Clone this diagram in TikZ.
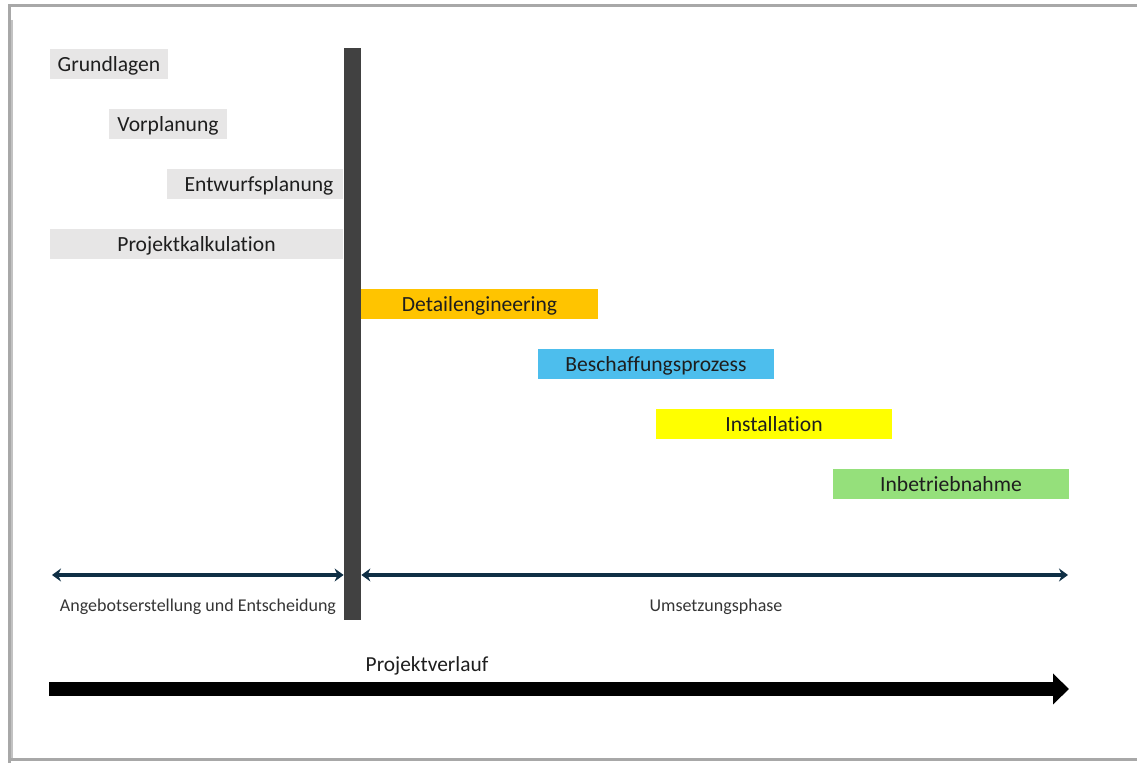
\documentclass[tikz,border=0pt]{standalone}
\usepackage{fontspec}
\setmainfont{Carlito}[Ligatures=NoCommon]
\usetikzlibrary{arrows.meta}
\definecolor{boxgray}{HTML}{E7E6E6}
\definecolor{gold}{HTML}{FFC400}
\definecolor{skyblue}{HTML}{4DBEED}
\definecolor{brightyellow}{HTML}{FFFF00}
\definecolor{lightgreen}{HTML}{95E07B}
\definecolor{barcol}{HTML}{414141}
\definecolor{navy}{HTML}{0F2F45}
\definecolor{txt}{HTML}{1E1E1E}
\definecolor{subtxt}{HTML}{353535}
\definecolor{framecol}{HTML}{A8A8A8}
\tikzset{
  phase/.style={fill=#1, inner sep=0pt, minimum height=15pt, text=txt,
    text height=10pt, text depth=2pt,
    font=\fontsize{10.8}{12}\selectfont},
  span/.style={draw=navy, line width=2pt,
    {Stealth[length=4.5pt,width=6.5pt]}-{Stealth[length=4.5pt,width=6.5pt]}},
  sublabel/.style={text=subtxt, inner sep=0pt, font=\fontsize{9}{10}\selectfont},
}
\begin{document}
\begin{tikzpicture}[x=0.5pt,y=-0.5pt]
\useasboundingbox (0,0) rectangle (1137,763);
% page frame
\draw[framecol, line width=1.5pt] (9,1200) -- (9,5.5) -- (1200,5.5);
\draw[framecol!70, line width=1pt] (12,20) -- (12,758);
\draw[framecol, line width=1.5pt] (9,760) -- (1200,760);

% planning phases before the decision
\node[phase=boxgray, minimum width=59pt] (grund) at (109,64) {Grundlagen};
\node[phase=boxgray, minimum width=59pt] (vor) at (168,124) {Vorplanung};
\node[phase=boxgray, minimum width=88pt] (entwurf) at (255,184) {\hspace*{4pt}Entwurfsplanung};
\node[phase=boxgray, minimum width=146.5pt] (kalk) at (196.5,244) {Projektkalkulation};

% decision gate
\node[fill=barcol, inner sep=0pt, minimum width=8.5pt, minimum height=286pt] (gate) at (352.5,334) {};

% implementation phases
\node[phase=gold, minimum width=118.5pt] (detail) at (479.5,304) {Detailengineering};
\node[phase=skyblue, minimum width=118pt] (beschaff) at (656,364) {Beschaffungsprozess};
\node[phase=brightyellow, minimum width=118pt] (install) at (774,424) {Installation};
\node[phase=lightgreen, minimum width=118pt] (inbetr) at (951,484) {Inbetriebnahme};

% spans of the two project stages
\coordinate (spanL) at (52,575);
\coordinate (spanR) at (1068,575);
\draw[span] (spanL) -- (gate.west |- spanL);
\draw[span] (gate.east |- spanL) -- (spanR);
\node[sublabel] (angebot) at (198,607) {Angebotserstellung und Entscheidung};
\node[sublabel] (umsetz) at (716,607) {Umsetzungsphase};

% overall project timeline
\coordinate (tlStart) at (49,689);
\coordinate (tlEnd) at (1069,689);
\draw[black, line width=7pt, -{Triangle[length=8pt,width=15pt]}] (tlStart) -- (tlEnd);
\node[text=txt, inner sep=0pt, font=\fontsize{10.7}{12}\selectfont] (verlauf) at (427,666) {Projektverlauf};
\end{tikzpicture}
\end{document}
